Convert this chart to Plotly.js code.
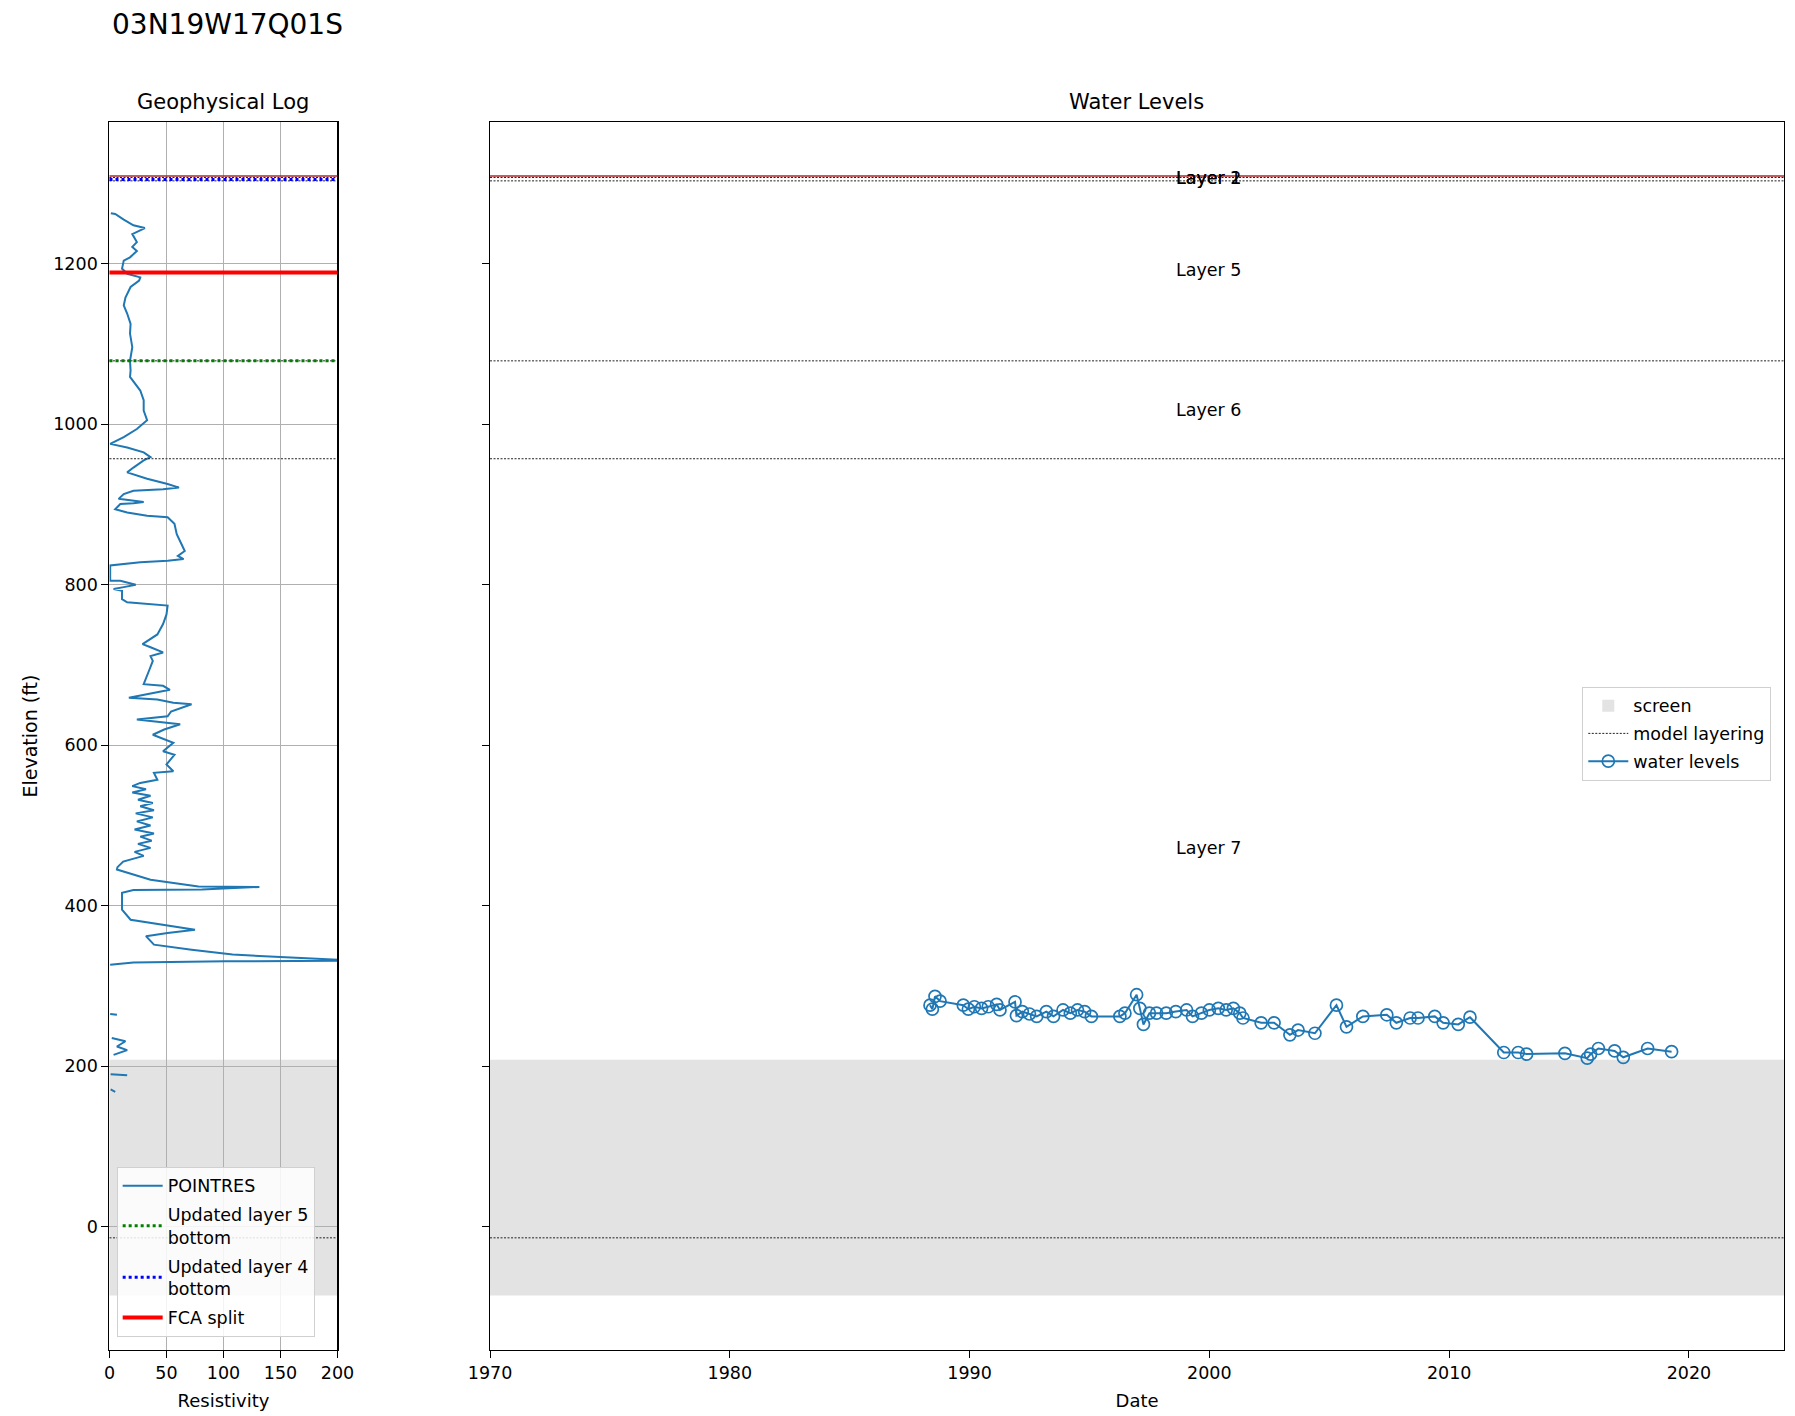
<!DOCTYPE html>
<html><head><meta charset="utf-8">
<script src="https://cdn.plot.ly/plotly-3.0.1.min.js"></script>
<style>html,body{margin:0;padding:0;background:#fff}</style>
</head><body><div id="chart" style="width:1795px;height:1416px"></div>
<script>
const wellName = '03N19W17Q01S';

// POINTRES geophysical log (elevation ft, resistivity); null = gap
const logElev = [1263,1262,1255,1248,1244.5,1237,1227,1221,1216,1208,1204,1194,1187.5,1183,1179,1171,1158,1148,1138,1125,1113,1096,1079,1067,1059,1050,1042,1030,1017,1005,994,984,975.5,971,965,959,955,946,940,932,925.6,921,919,917,913,907,905,903,901.5,900.6,894,890,886,884,876,863,851,842,836,832,830,828,824,815,805,805,800,797,794.6,792.5,782,778,776,774,763,751,738,726,722,715.6,711,705,694,676,674,669,659,657,653,651,642,636,632,626,619.5,613,603,592.5,588,576,567.6,565.5,557,553,549,545,541,537,532,528,524,519,515,510,505,500,495,490,486,481,477,472,467,462,455,448,445,440,436,432.4,424,423.3,420,419.5,416,395,382.5,376,370,366,362,351.4,345,339,334.7,331.4,330.6,329.3,326.4,null,265,264,null,235,231,224.5,220,214,null,190,188.5,null,171,168];
const logRes = [1.2,5,12.5,21,31,20,24,20,24,18,12.5,11,15.5,27,26,18.5,14,12.5,15.5,18.5,18,20,18,18.5,18,23,27,30,30,33,24,12.5,0.6,15.5,30,36,30,21,15.5,33,51,61,47,21,12.5,8,17,30,21,9.5,5,15.5,33,51,57,59,63,66,60,65,51,27,0.6,0.4,0.6,9.5,23,12.5,3.6,11,11,15.5,36,51,50,47,42,29,36,47,36,38,35,30,47,53,17,42,56,72,54,51,24,62,48,38,56,47,57,50,56,39,42,27,20,32,20,36,25,38,27,39,23,38,24,36,22,39,27,37,25,36,22,30,12,7,6.5,18,28,36,78,131.5,81,21,11,11,18.5,48,75,51,32,39,72,108,161,215,102,21,0.6,null,0.6,6.5,null,2,14,6.5,15.5,3.6,null,1,15.5,null,1,5];

// Water levels
const wlDates = ['1988-05-08','1988-06-13','1988-07-23','1988-10-08','1989-09-27','1989-12-13','1990-03-14','1990-07-02','1990-10-12','1991-02-17','1991-04-09','1991-11-24','1991-12-16','1992-03-14','1992-07-01','1992-10-19','1993-03-15','1993-07-02','1993-11-24','1994-03-15','1994-07-02','1994-10-19','1995-01-30','1996-04-08','1996-06-24','1996-12-19','1997-02-06','1997-04-02','1997-07-02','1997-10-19','1998-03-15','1998-08-08','1999-01-19','1999-04-20','1999-09-02','2000-01-01','2000-05-16','2000-09-13','2001-01-01','2001-04-09','2001-05-27','2002-02-28','2002-09-13','2003-05-12','2003-09-13','2004-05-27','2005-04-20','2005-09-20','2006-05-27','2007-05-27','2007-10-19','2008-05-16','2008-09-13','2009-05-27','2009-10-01','2010-05-19','2010-11-14','2012-04-12','2012-11-17','2013-03-26','2014-10-30','2015-10-05','2015-11-25','2016-03-23','2016-11-25','2017-04-06','2018-04-12','2019-04-12'];
const wlElev = [276,271,287,281,276,271,274,272,274,277,270,280,263,268,265,262,268,262,270,266,270,268,262,262,266,289,272,252,266,266,266,268,270,262,266,270,272,270,272,266,260,254,254,239,245,241,276,249,262,264,254,260,260,262,254,252,261,217,217,215,216,210,215,222,219,211,222,218];

// Well / model features (elevation ft)
const screenTop = 208;
const screenBottom = -86;
const landSurface = 1309.5;
const modelLayering = [1307.5, 1303.3, 1079, 957, -14];
const layerNames = ['Layer 1','Layer 2','Layer 5','Layer 6','Layer 7'];
const layerTop = [1309.5, 1307.5, 1305, 1079, 957];
const layerBottom = [1303.3, 1305.5, 1079, 957, -14];
const fcaSplit = 1189;
const updatedLayer5Bottom = 1079;
const updatedLayer4Bottom = 1305;

const yRange = [-153.8, 1376.6];
const xDateRange = ['1970-01-01', '2023-12-20'];
const labelDate = '2000-01-01';

const FONT = 'DejaVu Sans, Liberation Sans, sans-serif';
const blue = '#1f77b4';
const TF = 17.5;

const traces = [
  {x: logRes, y: logElev, type: 'scatter', mode: 'lines', name: 'POINTRES',
   line: {color: blue, width: 2}, xaxis: 'x', yaxis: 'y', connectgaps: false,
   legend: 'legend', legendrank: 1, legendgroup: 'g1'},
  {x: wlDates, y: wlElev, type: 'scatter', mode: 'lines+markers', name: 'water levels',
   line: {color: blue, width: 2}, marker: {symbol: 'circle-open', size: 12, color: blue, line: {width: 1.7, color: blue}},
   xaxis: 'x2', yaxis: 'y2', legend: 'legend2', legendrank: 3, legendgroup: 'w3'}
];

const shapes = [];
[['x domain','y'],['x2 domain','y2']].forEach(([xr,yr], i) => {
  shapes.push({type: 'rect', xref: xr, yref: yr, x0: 0, x1: 1, y0: screenBottom, y1: screenTop,
    fillcolor: '#e3e3e3', line: {width: 0}, layer: 'below',
    showlegend: i === 1, name: 'screen', legend: 'legend2', legendrank: 1, legendgroup: 'w1'});
  shapes.push({type: 'line', xref: xr, yref: yr, x0: 0, x1: 1, y0: landSurface, y1: landSurface,
    line: {color: '#b22a2a', width: 1.5}, layer: 'above', showlegend: false});
  modelLayering.forEach((e, j) => {
    shapes.push({type: 'line', xref: xr, yref: yr, x0: 0, x1: 1, y0: e, y1: e,
      line: {color: '#222', width: 1, dash: '2px,1.5px'}, layer: 'above',
      showlegend: i === 1 && j === 0, name: 'model layering', legend: 'legend2', legendrank: 2, legendgroup: 'w2'});
  });
});
shapes.push({type: 'line', xref: 'x domain', yref: 'y', x0: 0, x1: 1, y0: updatedLayer5Bottom, y1: updatedLayer5Bottom,
  line: {color: '#008000', width: 3, dash: 'dot'}, layer: 'above', showlegend: true,
  name: 'Updated layer 5<br>bottom', legend: 'legend', legendrank: 2, legendgroup: 'g2'});
shapes.push({type: 'line', xref: 'x domain', yref: 'y', x0: 0, x1: 1, y0: updatedLayer4Bottom, y1: updatedLayer4Bottom,
  line: {color: '#0000ff', width: 3, dash: 'dot'}, layer: 'above', showlegend: true,
  name: 'Updated layer 4<br>bottom', legend: 'legend', legendrank: 3, legendgroup: 'g3'});
shapes.push({type: 'line', xref: 'x domain', yref: 'y', x0: 0, x1: 1, y0: fcaSplit, y1: fcaSplit,
  line: {color: '#ff0000', width: 4}, layer: 'above', showlegend: true,
  name: 'FCA split', legend: 'legend', legendrank: 4, legendgroup: 'g4'});

const annotations = [
  {text: wellName, xref: 'paper', yref: 'paper', x: 0.0613, y: 0.9830, xanchor: 'left', yanchor: 'middle',
   showarrow: false, font: {family: FONT, size: 28, color: '#000'}},
  {text: 'Geophysical Log', xref: 'paper', yref: 'paper', x: 0.1245, y: 0.928, xanchor: 'center', yanchor: 'middle',
   showarrow: false, font: {family: FONT, size: 21, color: '#000'}},
  {text: 'Water Levels', xref: 'paper', yref: 'paper', x: 0.6334, y: 0.928, xanchor: 'center', yanchor: 'middle',
   showarrow: false, font: {family: FONT, size: 21, color: '#000'}}
];
layerNames.forEach((n, i) => {
  annotations.push({text: n, xref: 'x2', yref: 'y2', x: labelDate, y: (layerTop[i] + layerBottom[i]) / 2,
    showarrow: false, xanchor: 'center', yanchor: 'middle', font: {family: FONT, size: TF, color: '#000'}});
});

const axisCommon = {showline: true, mirror: true, linecolor: '#000', linewidth: 1.2,
  ticks: 'outside', ticklen: 7, tickcolor: '#000', tickfont: {family: FONT, size: TF, color: '#000'},
  zeroline: false, automargin: false};

const legendCommon = {bgcolor: 'rgba(255,255,255,0.85)', bordercolor: '#d0d0d0', borderwidth: 1,
  font: {family: FONT, size: TF, color: '#000'}, itemwidth: 40, traceorder: 'grouped'};

const layout = {
  width: 1795, height: 1416,
  margin: {l: 0, r: 0, t: 0, b: 0},
  paper_bgcolor: '#fff', plot_bgcolor: '#fff',
  font: {family: FONT, size: TF, color: '#000'},
  xaxis: Object.assign({}, axisCommon, {domain: [0.0610, 0.1880], range: [0, 200], tickvals: [0,50,100,150,200],
    showgrid: true, gridcolor: '#b0b0b0', gridwidth: 1, anchor: 'y',
    title: {text: 'Resistivity', font: {family: FONT, size: 18, color: '#000'}, standoff: 12}}),
  yaxis: Object.assign({}, axisCommon, {domain: [0.0466, 0.9138], range: yRange, tickvals: [0,200,400,600,800,1000,1200],
    showgrid: true, gridcolor: '#b0b0b0', gridwidth: 1, anchor: 'x',
    title: {text: 'Elevation (ft)', font: {family: FONT, size: 19, color: '#000'}, standoff: 10}}),
  xaxis2: Object.assign({}, axisCommon, {domain: [0.2730, 0.9939], type: 'date', range: xDateRange,
    tickvals: ['1970-01-01','1980-01-01','1990-01-01','2000-01-01','2010-01-01','2020-01-01'],
    ticktext: ['1970','1980','1990','2000','2010','2020'],
    showgrid: false, anchor: 'y2',
    title: {text: 'Date', font: {family: FONT, size: 18, color: '#000'}, standoff: 12}}),
  yaxis2: Object.assign({}, axisCommon, {domain: [0.0466, 0.9138], range: yRange, tickvals: [0,200,400,600,800,1000,1200],
    showticklabels: false, showgrid: false, anchor: 'x2'}),
  shapes: shapes,
  annotations: annotations,
  legend: Object.assign({}, legendCommon, {x: 0.0650, y: 0.176, xanchor: 'left', yanchor: 'top', tracegroupgap: 3}),
  legend2: Object.assign({}, legendCommon, {x: 0.8815, y: 0.515, xanchor: 'left', yanchor: 'top', tracegroupgap: 2}),
  showlegend: true
};

Plotly.newPlot('chart', traces, layout, {displayModeBar: false, staticPlot: true});
</script></body></html>
